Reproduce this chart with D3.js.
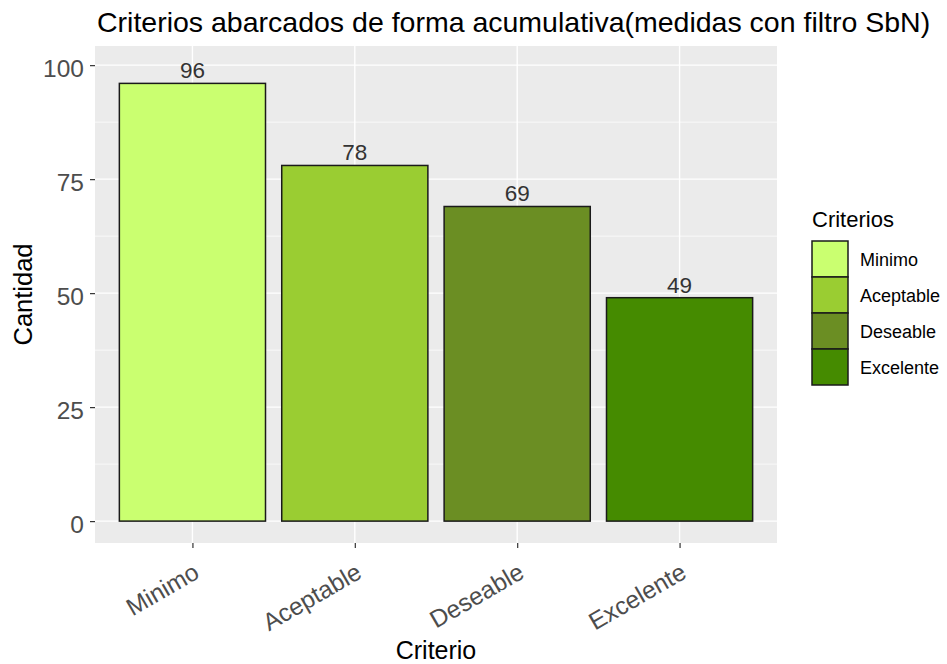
<!DOCTYPE html>
<html>
<head>
<meta charset="utf-8">
<script src="https://cdn.jsdelivr.net/npm/d3@7"></script>
<style>
  body { margin: 0; background: #fff; }
  text { font-family: "Liberation Sans", Arial, sans-serif; }
</style>
</head>
<body>
<div class="chart"></div>
<script>
const categories = ["Minimo", "Aceptable", "Deseable", "Excelente"];
const values = [96, 78, 69, 49];
const colors = ["#CAFF70", "#9ACD32", "#6B8E23", "#458B00"];
const yTicks = [0, 25, 50, 75, 100];
const yMinor = [12.5, 37.5, 62.5, 87.5];

const WIDTH = 947;
const HEIGHT = 664;
const PANEL = { left: 95, top: 46, right: 777, bottom: 543 };
const FONT = "Liberation Sans, Arial, sans-serif";

const svg = d3.create("svg").attr("width", WIDTH).attr("height", HEIGHT);

const xScale = d3.scaleLinear()
  .domain([0.4, categories.length + 0.6])
  .range([PANEL.left, PANEL.right]);

const yScale = d3.scaleLinear()
  .domain([-4.8, 104.2])
  .range([PANEL.bottom, PANEL.top]);

// panel background
svg.append("rect")
  .attr("x", PANEL.left)
  .attr("y", PANEL.top)
  .attr("width", PANEL.right - PANEL.left)
  .attr("height", PANEL.bottom - PANEL.top)
  .style("fill", "#EBEBEB");

// minor grid
svg.append("g")
  .selectAll()
  .data(yMinor)
  .join("line")
  .attr("x1", PANEL.left).attr("x2", PANEL.right)
  .attr("y1", d => yScale(d)).attr("y2", d => yScale(d))
  .style("stroke", "#fff").style("stroke-width", 0.7);

// major grid
svg.append("g")
  .selectAll()
  .data(yTicks)
  .join("line")
  .attr("x1", PANEL.left).attr("x2", PANEL.right)
  .attr("y1", d => yScale(d)).attr("y2", d => yScale(d))
  .style("stroke", "#fff").style("stroke-width", 1.4);

svg.append("g")
  .selectAll()
  .data(categories)
  .join("line")
  .attr("x1", (d, i) => xScale(i + 1)).attr("x2", (d, i) => xScale(i + 1))
  .attr("y1", PANEL.top).attr("y2", PANEL.bottom)
  .style("stroke", "#fff").style("stroke-width", 1.4);

// bars
svg.append("g")
  .selectAll()
  .data(values)
  .join("rect")
  .attr("x", (d, i) => xScale(i + 1 - 0.45))
  .attr("width", xScale(1.45) - xScale(0.55))
  .attr("y", d => yScale(d))
  .attr("height", d => yScale(0) - yScale(d))
  .style("fill", (d, i) => colors[i])
  .style("stroke", "#1a1a1a")
  .style("stroke-width", 1.5);

// value labels
svg.append("g")
  .selectAll()
  .data(values)
  .join("text")
  .attr("x", (d, i) => xScale(i + 1))
  .attr("y", d => yScale(d) - 5)
  .attr("text-anchor", "middle")
  .style("font-size", "22.5px")
  .style("fill", "#333")
  .text(d => d);

// y axis
const yAxis = d3.axisLeft(yScale).tickValues(yTicks).tickSize(5).tickPadding(6);
const yG = svg.append("g")
  .attr("transform", `translate(${PANEL.left},0)`)
  .call(yAxis);
yG.select(".domain").remove();
yG.selectAll(".tick line").style("stroke", "#333").style("stroke-width", 1.2);
yG.selectAll(".tick text")
  .attr("dy", "0.45em")
  .attr("font-family", FONT)
  .style("font-size", "24.5px").style("fill", "#4D4D4D");

// x axis
const xAxis = d3.axisBottom(xScale)
  .tickValues(categories.map((d, i) => i + 1))
  .tickFormat((d, i) => categories[i])
  .tickSize(5);
const xG = svg.append("g")
  .attr("transform", `translate(0,${PANEL.bottom})`)
  .call(xAxis);
xG.select(".domain").remove();
xG.selectAll(".tick line").style("stroke", "#333").style("stroke-width", 1.2);
xG.selectAll(".tick text")
  .attr("y", 0).attr("dy", 0)
  .attr("text-anchor", "end")
  .attr("transform", "translate(8,34) rotate(-30)")
  .attr("font-family", FONT)
  .style("font-size", "24.5px").style("fill", "#4D4D4D");

// axis titles
svg.append("text")
  .attr("x", (PANEL.left + PANEL.right) / 2)
  .attr("y", 659)
  .attr("text-anchor", "middle")
  .style("font-size", "25px")
  .text("Criterio");

svg.append("text")
  .attr("transform", `translate(32,${(PANEL.top + PANEL.bottom) / 2}) rotate(-90)`)
  .attr("text-anchor", "middle")
  .style("font-size", "25.5px")
  .text("Cantidad");

// title
svg.append("text")
  .attr("x", 97)
  .attr("y", 32)
  .style("font-size", "28.5px")
  .text("Criterios abarcados de forma acumulativa(medidas con filtro SbN)");

// legend
const legend = svg.append("g").attr("transform", "translate(812,0)");
legend.append("text")
  .attr("x", 0).attr("y", 227)
  .style("font-size", "22px")
  .text("Criterios");

const keys = legend.append("g")
  .selectAll()
  .data(categories)
  .join("g")
  .attr("transform", (d, i) => `translate(0,${241 + i * 36})`);
keys.append("rect")
  .attr("width", 36).attr("height", 36)
  .style("fill", (d, i) => colors[i])
  .style("stroke", "#1a1a1a").style("stroke-width", 1.5);
keys.append("text")
  .attr("x", 48).attr("y", 25)
  .style("font-size", "18px")
  .text(d => d);

document.querySelector(".chart").append(svg.node());
</script>
</body>
</html>
